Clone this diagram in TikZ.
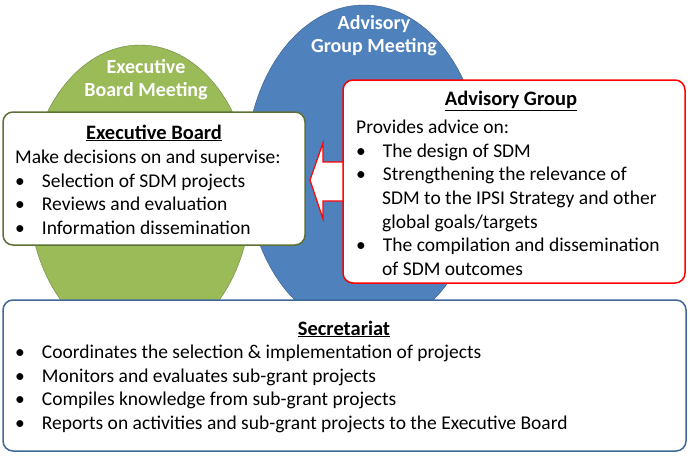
\documentclass[tikz,border=0pt]{standalone}
\usepackage{fontspec}
\setmainfont{Carlito}
\usetikzlibrary{shapes.geometric}
\begin{document}
\begin{tikzpicture}[x=1pt,y=-1pt,
  box/.style={draw,line width=1.5pt,rounded corners=10pt,fill=white},
  lbl/.style={text=white,font=\fontsize{20}{23}\selectfont\bfseries,align=center},
  head/.style={font=\fontsize{20.5}{23}\selectfont\bfseries},
  body/.style={font=\fontsize{19.5}{23.6}\selectfont,anchor=north west,align=left,inner sep=0pt}]
\useasboundingbox (0,0) rectangle (690,456);
\definecolor{eg}{HTML}{9BBB59}\definecolor{eb}{HTML}{4F81BD}
\node[draw=eg!70!black,fill=eg,ellipse,minimum width=222,minimum height=300,inner sep=0] (ge) at (140,195) {};
\node[draw=eb!70!black,fill=eb,ellipse,minimum width=236,minimum height=326,inner sep=0] (be) at (364,168) {};
\draw[box,draw=eg!60!black] (3,112) rectangle (305,245);
\draw[box,draw=red] (343,80) rectangle (685,283);
\draw[box,draw=eb!80!black] (3,300) rectangle (686,451);
\node[lbl] (gl) at (146,80) {Executive\\Board Meeting};
\node[lbl] (bl) at (374,36) {Advisory\\Group Meeting};
\draw[red,line width=1.2pt,fill=white] (310,180) -- (323,143) -- (323,162) -- (343,162) -- (343,201) -- (323,201) -- (323,219) -- cycle;
\node[head] (et) at (154,133) {\underline{Executive Board}};
\node[body] (eb1) at (15,150) {Make decisions on and supervise:\\
\textbullet\hspace{17pt}Selection of SDM projects\\
\textbullet\hspace{17pt}Reviews and evaluation\\
\textbullet\hspace{17pt}Information dissemination};
\node[head] (at) at (511,101) {\underline{Advisory Group}};
\node[body] (ab) at (356,120) {Provides advice on:\\
\textbullet\hspace{17pt}The design of SDM\\
\textbullet\hspace{17pt}Strengthening the relevance of\\
\hspace*{26pt}SDM to the IPSI Strategy and other\\
\hspace*{26pt}global goals/targets\\
\textbullet\hspace{17pt}The compilation and dissemination\\
\hspace*{26pt}of SDM outcomes};
\node[head] (st) at (344,329) {\underline{Secretariat}};
\node[body] (sb) at (15,345) {\textbullet\hspace{17pt}Coordinates the selection \& implementation of projects\\
\textbullet\hspace{17pt}Monitors and evaluates sub-grant projects\\
\textbullet\hspace{17pt}Compiles knowledge from sub-grant projects\\
\textbullet\hspace{17pt}Reports on activities and sub-grant projects to the Executive Board};
\end{tikzpicture}
\end{document}
